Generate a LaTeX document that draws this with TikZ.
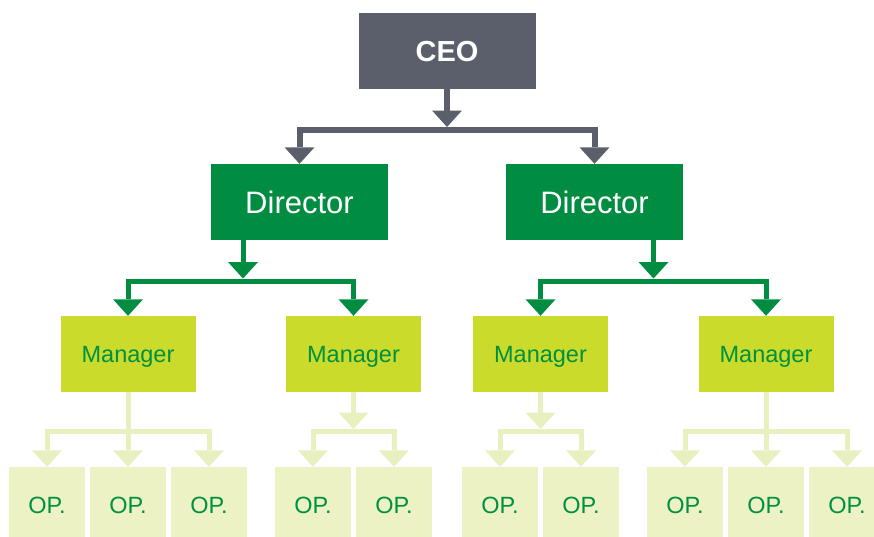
\documentclass[tikz,border=0pt]{standalone}
\usepackage{fontspec}
\setmainfont{Liberation Sans}
\usetikzlibrary{arrows.meta}

\definecolor{ceogray}{HTML}{5A5F6B}
\definecolor{dirgreen}{HTML}{008C41}
\definecolor{mgrlime}{HTML}{CADB2B}
\definecolor{oplight}{HTML}{ECF2C4}
\definecolor{oplink}{HTML}{E8F0BF}
\definecolor{txtgreen}{HTML}{009140}

\begin{document}
\begin{tikzpicture}[x=1pt,y=-1pt,
  box/.style={rectangle, inner sep=0pt, text depth=0pt, anchor=center},
  ceobox/.style={box, fill=ceogray, minimum width=177pt, minimum height=76pt,
    text=white, font=\bfseries\fontsize{29}{29}\selectfont},
  dirbox/.style={box, fill=dirgreen, minimum width=177pt, minimum height=76pt,
    text=white, font=\fontsize{31}{31}\selectfont},
  mgrbox/.style={box, fill=mgrlime, minimum width=135pt, minimum height=76pt,
    text=txtgreen, font=\fontsize{23.5}{23.5}\selectfont},
  opbox/.style={box, fill=oplight, minimum width=76pt, minimum height=76pt,
    text=txtgreen, font=\fontsize{23.5}{23.5}\selectfont},
  link/.style={line width=5pt, line join=miter,
    -{Triangle[width=30pt,length=16.5pt,line width=0pt]}},
  bar/.style={line width=5pt, line join=miter},
  toplink/.style={link, line width=6pt, draw=ceogray, ceogray},
  toprule/.style={bar, line width=6pt, draw=ceogray},
  midlink/.style={link, draw=dirgreen, dirgreen},
  lowlink/.style={link, draw=oplink, oplink},
]
\clip (0,0) rectangle (874,536);

% boxes
\node[ceobox] (ceo) at (447,51) {CEO};
\node[dirbox] (d1) at (299.5,202) {Director};
\node[dirbox] (d2) at (594.5,202) {Director};

\node[mgrbox] (m1) at (128,354) {Manager};
\node[mgrbox] (m2) at (353.5,354) {Manager};
\node[mgrbox] (m3) at (540.5,354) {Manager};
\node[mgrbox] (m4) at (766,354) {Manager};

\node[opbox] (o1) at (47,505) {OP.};
\node[opbox] (o2) at (128,505) {OP.};
\node[opbox] (o3) at (209,505) {OP.};
\node[opbox] (o4) at (313,505) {OP.};
\node[opbox] (o5) at (394,505) {OP.};
\node[opbox] (o6) at (500,505) {OP.};
\node[opbox] (o7) at (581,505) {OP.};
\node[opbox] (o8) at (685,505) {OP.};
\node[opbox] (o9) at (766,505) {OP.};
\node[opbox] (o10) at (847,505) {OP.};

% CEO to directors
\coordinate (jc) at (447,130);
\coordinate (tc) at (447,127);
\draw[toplink] (ceo) -- (tc);
\draw[toplink] (jc) -| (d1);
\draw[toplink] (jc) -| (d2);

% directors to managers
\coordinate (j1) at (243,281);
\coordinate (t1) at (243,278.5);
\draw[midlink] (d1.south -| t1) -- (t1);
\draw[midlink] (j1) -| (m1);
\draw[midlink] (j1) -| (m2);

\coordinate (j2) at (653.5,281);
\coordinate (t2) at (653.5,278.5);
\draw[midlink] (d2.south -| t2) -- (t2);
\draw[midlink] (j2) -| (m3);
\draw[midlink] (j2) -| (m4);

% managers to operators
\coordinate (jm1) at (128,431.5);
\draw[lowlink] (m1) -- (o2);
\draw[lowlink] (jm1) -| (o1);
\draw[lowlink] (jm1) -| (o3);

\coordinate (jm2) at (353.5,431.5);
\coordinate (tm2) at (353.5,429);
\draw[lowlink] (m2) -- (tm2);
\draw[lowlink] (jm2) -| (o4);
\draw[lowlink] (jm2) -| (o5);

\coordinate (jm3) at (540.5,431.5);
\coordinate (tm3) at (540.5,429);
\draw[lowlink] (m3) -- (tm3);
\draw[lowlink] (jm3) -| (o6);
\draw[lowlink] (jm3) -| (o7);

\coordinate (jm4) at (766,431.5);
\draw[lowlink] (m4) -- (o9);
\draw[lowlink] (jm4) -| (o8);
\draw[lowlink] (jm4) -| (o10);
\end{tikzpicture}
\end{document}
